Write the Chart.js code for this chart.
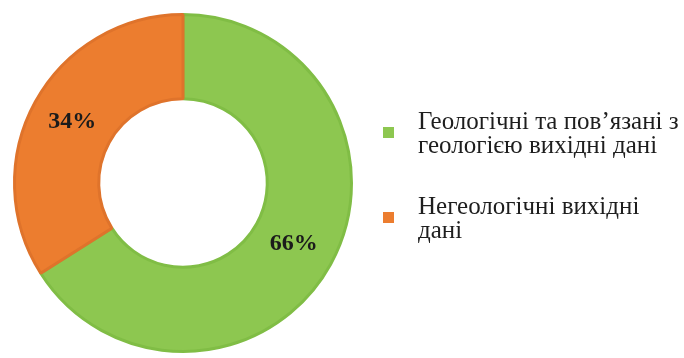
<!DOCTYPE html>
<html>
<head>
<meta charset="utf-8">
<script src="https://cdn.jsdelivr.net/npm/chart.js@4"></script>
<style>
  html, body { margin: 0; padding: 0; background: #fff; }
  #wrap { width: 684px; height: 358px; }
</style>
</head>
<body>
<div id="wrap"><canvas id="pieChart" width="684" height="358"></canvas></div>
<script>
const labels = [
  ["Геологічні та пов’язані з", "геологією вихідні дані"],
  ["Негеологічні вихідні", "дані"],
];
const values = [66, 34];
const colors = ["#8dc750", "#ec7d2f"];
const borders = ["#80bd45", "#df732b"];

// percent labels inside the ring
const sliceLabels = {
  id: "sliceLabels",
  afterDatasetsDraw(chart) {
    const ctx = chart.ctx;
    const meta = chart.getDatasetMeta(0);
    ctx.save();
    ctx.font = "bold 24px 'Liberation Serif', serif";
    ctx.fillStyle = "#1b1b1b";
    ctx.textAlign = "center";
    ctx.textBaseline = "middle";
    meta.data.forEach((arc, i) => {
      const p = arc.tooltipPosition();
      ctx.fillText(values[i] + "%", p.x, p.y);
    });
    ctx.restore();
  },
};

// legend on the right, two lines per entry
const sideLegend = {
  id: "sideLegend",
  afterDraw(chart) {
    const ctx = chart.ctx;
    const baselines = [129, 214];
    const boxTops = [127, 212];
    ctx.save();
    ctx.font = "25px 'Liberation Serif', serif";
    ctx.textBaseline = "alphabetic";
    ctx.textAlign = "left";
    labels.forEach((lines, i) => {
      ctx.fillStyle = colors[i];
      ctx.fillRect(383, boxTops[i], 11, 11);
      ctx.fillStyle = "#1e1e1e";
      lines.forEach((t, j) => ctx.fillText(t, 418, baselines[i] + j * 24));
    });
    ctx.restore();
  },
};

new Chart(document.getElementById("pieChart"), {
  type: "doughnut",
  data: {
    labels: labels,
    datasets: [
      {
        data: values,
        backgroundColor: colors,
        borderColor: borders,
        borderWidth: 3,
      },
    ],
  },
  options: {
    responsive: false,
    animation: false,
    cutout: "50%",
    layout: { padding: { left: 13, top: 13, right: 331, bottom: 5 } },
    plugins: {
      legend: { display: false },
      tooltip: { enabled: false },
    },
  },
  plugins: [sliceLabels, sideLegend],
});
</script>
</body>
</html>
